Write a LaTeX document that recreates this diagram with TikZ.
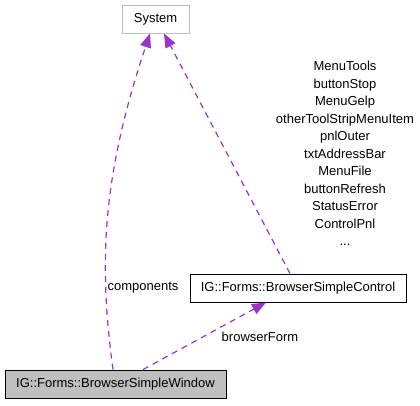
\documentclass[tikz,border=0pt]{standalone}
\usepackage{fontspec}
\setmainfont{Liberation Sans}
\usepackage{tikz}
\usetikzlibrary{positioning,arrows.meta,calc}
\definecolor{ink}{RGB}{0,0,0}
\definecolor{dep}{RGB}{154,50,205}
\definecolor{extfr}{RGB}{191,191,191}
\definecolor{nodegray}{RGB}{191,191,191}
\tikzset{
  cls/.style={draw=ink, fill=white, minimum height=28pt, inner sep=0pt,
    font=\fontsize{13}{15}\selectfont, text=ink, line width=0.9pt},
  extcls/.style={cls, draw=extfr},
  curcls/.style={cls, fill=nodegray},
  usage/.style={-{Triangle[length=14pt, width=11pt]}, draw=dep, fill=none,
    line width=1.2pt, dash pattern=on 6pt off 5pt},
  lbl/.style={font=\fontsize{13}{17.5}\selectfont, text=ink, align=center, inner sep=0pt},
}
\begin{document}
\begin{tikzpicture}[x=1pt, y=-1pt]
  \useasboundingbox (0,0) rectangle (420,405);
  % classes
  \node[extcls, minimum width=67pt] (sys) at (155.5,19) {System};
  \node[cls, minimum width=216pt] (ctrl) at (298,288) {IG::Forms::BrowserSimpleControl};
  \node[curcls, minimum width=221pt] (win) at (115.5,384) {IG::Forms::BrowserSimpleWindow};
  % usage relations
  \draw[usage] (win.north -| 113,0) .. controls (99,265) and (101,180) .. (sys.south -| 150,0);
  \draw[usage] (ctrl.north -| 290,0) -- (sys.south -| 164,0);
  \draw[usage] (win.north -| 143,0) -- (ctrl.south -| 266,0);
  \node[lbl] (lcomp) at (143,288) {components};
  \node[lbl] (lform) at (260,337) {browserForm};
  \node[lbl] (lmemb) at (345,153.5) {MenuTools\\buttonStop\\MenuGelp\\otherToolStripMenuItem\\pnlOuter\\
    txtAddressBar\\MenuFile\\buttonRefresh\\StatusError\\ControlPnl\\...};
\end{tikzpicture}
\end{document}
